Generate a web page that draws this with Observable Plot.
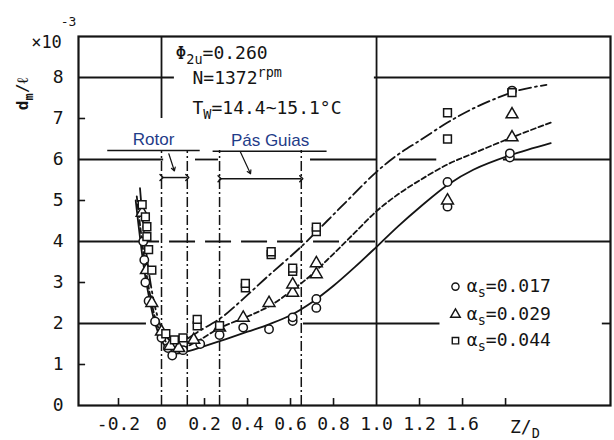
<!DOCTYPE html>
<html>
<head>
<meta charset="utf-8">
<script src="https://cdn.jsdelivr.net/npm/d3@7"></script>
<script src="https://cdn.jsdelivr.net/npm/@observablehq/plot@0.6"></script>
<style>
  html, body { margin: 0; padding: 0; background: #fff; }
  #chart { width: 614px; height: 440px; }
</style>
</head>
<body>
<div id="chart"></div>
<script>
// ---------- data ----------
const xTickPos = [-0.2, 0, 0.2, 0.4, 0.6, 0.8, 1.0, 1.2, 1.4];
const xTickLabels = ["-0.2", "0", "0.2", "0.4", "0.6", "0.8", "1.0", "1.2", "1.6"];
const yTickPos = [0, 1, 2, 3, 4, 5, 6, 7, 8];
const xMinorTicks = [-0.2, 0.2, 0.4, 0.6, 0.8, 1.2, 1.4, 1.6];
const yMinorTicks = [1, 3, 5, 7];

// curve alpha_s = 0.017 (solid)
const curveA_x = [-0.12,-0.1,-0.08,-0.06,-0.035,-0.005,0.03,0.06,0.12,0.2,0.3,0.4,0.5,0.6,0.7,0.8,0.9,1.0,1.1,1.2,1.33,1.45,1.62,1.81];
const curveA_y = [5.0,4.1,3.3,2.7,2.1,1.65,1.35,1.27,1.32,1.45,1.62,1.8,1.98,2.2,2.52,2.92,3.38,3.87,4.37,4.83,5.38,5.75,6.1,6.4];
// curve alpha_s = 0.029 (dashed)
const curveB_x = [-0.115,-0.095,-0.075,-0.055,-0.03,0.0,0.04,0.08,0.15,0.275,0.4,0.507,0.61,0.7,0.8,0.9,1.0,1.1,1.2,1.33,1.45,1.63,1.81];
const curveB_y = [5.1,4.2,3.4,2.75,2.15,1.72,1.45,1.38,1.52,1.9,2.17,2.44,2.82,3.2,3.7,4.22,4.74,5.15,5.49,5.88,6.15,6.54,6.9];
// curve alpha_s = 0.044 (dash-dot)
const curveC_x = [-0.1,-0.085,-0.065,-0.045,-0.02,0.01,0.05,0.1,0.18,0.28,0.38,0.49,0.647,0.77,0.88,1.0,1.1,1.2,1.33,1.44,1.57,1.67,1.79];
const curveC_y = [5.3,4.4,3.5,2.8,2.2,1.78,1.55,1.58,1.83,2.15,2.6,3.13,3.86,4.5,5.08,5.7,6.12,6.46,6.9,7.22,7.52,7.7,7.82];

// measured points
const circ_x = [-0.085,-0.08,-0.075,-0.06,-0.03,0.0,0.03,0.05,0.1,0.18,0.27,0.38,0.5,0.61,0.61,0.72,0.72,1.33,1.33,1.62,1.62,1.63];
const circ_y = [4.0,3.55,3.0,2.55,2.05,1.65,1.4,1.22,1.35,1.5,1.72,1.9,1.86,2.06,2.15,2.38,2.6,5.45,4.85,6.05,6.15,7.68];
const tri_x = [-0.09,-0.07,-0.045,0.0,0.04,0.08,0.15,0.27,0.38,0.5,0.61,0.61,0.72,0.72,1.33,1.63,1.63];
const tri_y = [4.7,3.3,2.5,1.8,1.45,1.4,1.6,1.9,2.14,2.5,2.75,2.95,3.2,3.47,5.0,6.54,7.1];
const sq_x = [-0.09,-0.075,-0.068,-0.068,-0.06,-0.045,0.02,0.06,0.1,0.166,0.166,0.27,0.39,0.39,0.51,0.51,0.61,0.61,0.72,0.72,1.33,1.33,1.63];
const sq_y = [4.9,4.6,4.36,4.12,3.8,3.3,1.75,1.6,1.65,1.94,2.1,1.95,2.87,2.98,3.68,3.75,3.27,3.35,4.24,4.35,6.5,7.14,7.63];

// legend
const legendLabels = ["α_{s}=0.017", "α_{s}=0.029", "α_{s}=0.044"];
const legendSymbols = ["circle", "triangle", "square"];
const legendY = [2.9, 2.22, 1.58];

// annotation texts
const infoLines = ["Φ_{2u}=0.260", "N=1372^{rpm}", "T_{W}=14.4~15.1°C"];
const infoX = [0.065, 0.144, 0.144];
const infoY = [8.6, 7.98, 7.25];

// region markers (in data units)
const rotorRange = [0, 0.12];
const guideRange = [0.27, 0.65];
const vDashDotX = [0, 0.12, 0.27, 0.65];

// horizontal grid segments [y, x1, x2]
const hGridSolid = [
  [8, -0.386, 0.06], [8, 0.99, 2.088],
  [6, -0.386, 0.01], [6, 0.158, 0.265], [6, 0.693, 1.0], [6, 1.107, 1.28], [6, 1.59, 2.088],
  [4, -0.386, -0.13], [4, 1.04, 2.088],
  [2, -0.386, -0.07], [2, 0.66, 1.295], [2, 2.05, 2.088]
];
const hGridDashed = [[4, -0.13, 1.0]];

// ---------- build ----------
const xMin = -0.386, xMax = 2.088;
const zip = (xs, ys) => xs.map((x, i) => ({x, y: ys[i]}));
const A = zip(curveA_x, curveA_y), B = zip(curveB_x, curveB_y), C = zip(curveC_x, curveC_y);
const circles = zip(circ_x, circ_y), tris = zip(tri_x, tri_y), sqs = zip(sq_x, sq_y);
const legend = legendLabels.map((t, i) => ({t, s: legendSymbols[i], y: legendY[i]}));
const info = infoLines.map((t, i) => ({t, x: infoX[i], y: infoY[i]}));
const xLab = new Map(xTickPos.map((v, i) => [v, xTickLabels[i]]));
const hs = hGridSolid.map(([y, x1, x2]) => ({y, x1, x2}));
const hd = hGridDashed.map(([y, x1, x2]) => ({y, x1, x2}));
const ink = "#141414";
const blue = "#1f3c88";

const plot = Plot.plot({
  width: 614, height: 440,
  marginLeft: 78, marginRight: 4, marginTop: 36, marginBottom: 35,
  style: {fontFamily: "'DejaVu Sans Mono', monospace", fontSize: "18px", color: ink, background: "#fff"},
  x: {domain: [xMin, xMax], ticks: xTickPos, tickFormat: d => xLab.get(d), tickSize: 0, tickPadding: 12, label: null},
  y: {domain: [0, 9], ticks: yTickPos, tickSize: 0, tickPadding: 15, label: null},
  marks: [
    // grid
    Plot.ruleY(hs, {y: "y", x1: "x1", x2: "x2", stroke: ink, strokeWidth: 1.8}),
    Plot.ruleY(hd, {y: "y", x1: "x1", x2: "x2", stroke: ink, strokeWidth: 1.8, strokeDasharray: "26,10"}),
    Plot.ruleX([0], {y1: 7, y2: 9, stroke: ink, strokeWidth: 1.8}),
    Plot.ruleX([1.0], {y1: 0, y2: 9, stroke: ink, strokeWidth: 1.8}),
    Plot.ruleX(vDashDotX, {y1: 0, y2: 6.22, stroke: ink, strokeWidth: 1.5, strokeDasharray: "10,3,2,3"}),
    // minor ticks
    Plot.ruleX(xMinorTicks, {y1: 0, y2: 0.17, stroke: ink, strokeWidth: 1.6}),
    Plot.ruleY(yMinorTicks, {x1: xMin, x2: xMin + 0.033, stroke: ink, strokeWidth: 1.6}),
    // region brackets
    Plot.ruleY([6.22], {x1: -0.25, x2: 0.18, stroke: ink, strokeWidth: 1.4}),
    Plot.ruleY([6.2], {x1: 0.24, x2: 0.77, stroke: ink, strokeWidth: 1.4}),
    Plot.link([{a: rotorRange[0], b: rotorRange[1]}], {x1: "a", x2: "b", y1: 5.56, y2: 5.56, stroke: ink, strokeWidth: 1.5, markerStart: "arrow", markerEnd: "arrow"}),
    Plot.link([{a: guideRange[0], b: guideRange[1]}], {x1: "a", x2: "b", y1: 5.53, y2: 5.53, stroke: ink, strokeWidth: 1.5, markerStart: "arrow", markerEnd: "arrow"}),
    Plot.arrow([{x1: 0.034, y1: 6.14, x2: 0.06, y2: 5.72}], {x1: "x1", y1: "y1", x2: "x2", y2: "y2", stroke: ink, strokeWidth: 1.2, headLength: 5}),
    Plot.arrow([{x1: 0.367, y1: 6.18, x2: 0.414, y2: 5.65}], {x1: "x1", y1: "y1", x2: "x2", y2: "y2", stroke: ink, strokeWidth: 1.2, headLength: 5}),
    Plot.text(["Rotor"], {x: -0.037, y: 6.49, fill: blue, fontFamily: "'Liberation Sans', Arial, sans-serif", fontSize: 17}),
    Plot.text(["Pás Guias"], {x: 0.505, y: 6.47, fill: blue, fontFamily: "'Liberation Sans', Arial, sans-serif", fontSize: 17}),
    // curves
    Plot.line(A, {x: "x", y: "y", curve: "catmull-rom", stroke: ink, strokeWidth: 1.8}),
    Plot.line(B, {x: "x", y: "y", curve: "catmull-rom", stroke: ink, strokeWidth: 1.8, strokeDasharray: "5,3"}),
    Plot.line(C, {x: "x", y: "y", curve: "catmull-rom", stroke: ink, strokeWidth: 1.8, strokeDasharray: "12,4,2,4"}),
    // points
    Plot.dot(circles, {x: "x", y: "y", symbol: "circle", r: 4.2, stroke: ink, fill: "#fff", strokeWidth: 1.5}),
    Plot.dot(tris, {x: "x", y: "y", symbol: "triangle", r: 4.4, stroke: ink, fill: "#fff", strokeWidth: 1.5}),
    Plot.dot(sqs, {x: "x", y: "y", symbol: "square", r: 4.4, stroke: ink, fill: "#fff", strokeWidth: 1.5}),
    // legend
    Plot.dot(legend, {x: 1.367, y: "y", symbol: "s", r: 3.6, stroke: ink, fill: "#fff", strokeWidth: 1.4}),
    Plot.text(legend, {x: 1.42, y: "y", text: "t", textAnchor: "start", fontSize: 18}),
    // info texts
    Plot.text(info, {x: "x", y: "y", text: "t", textAnchor: "start", fontSize: 18}),
    // axis decorations
    Plot.text(["×10"], {x: xMin, y: 8.85, dx: -32, fontSize: 17}),
    Plot.text(["-3"], {x: xMin, y: 9.35, dx: -10, fontSize: 13}),
    Plot.text(["d_{m}/ℓ"], {x: xMin, y: 7.6, dx: -56, rotate: -90, fontSize: 16, fontWeight: "bold"}),
    Plot.text(["Z/_{D}"], {x: 1.69, y: 0, dy: 22, fontSize: 18}),
    Plot.frame({stroke: ink, strokeWidth: 2.2})
  ]
});

// rich text: _{..} subscript, ^{..} superscript
d3.select(plot).selectAll("text").each(function () {
  const el = this;
  const s = el.textContent;
  if (!/[_^]\{/.test(s)) return;
  const re = /([_^])\{([^}]*)\}/g;
  const segs = [];
  let last = 0, m;
  while ((m = re.exec(s))) {
    if (m.index > last) segs.push({t: s.slice(last, m.index), k: ""});
    segs.push({t: m[2], k: m[1]});
    last = re.lastIndex;
  }
  if (last < s.length) segs.push({t: s.slice(last), k: ""});
  while (el.firstChild) el.removeChild(el.firstChild);
  let cur = 0;
  for (const g of segs) {
    const target = g.k === "_" ? 5 : g.k === "^" ? -7 : 0;
    const ts = d3.select(el).append("tspan").text(g.t).attr("dy", target - cur);
    if (g.k) ts.style("font-size", "75%");
    cur = target;
  }
});

document.getElementById("chart").appendChild(plot);
</script>
</body>
</html>
